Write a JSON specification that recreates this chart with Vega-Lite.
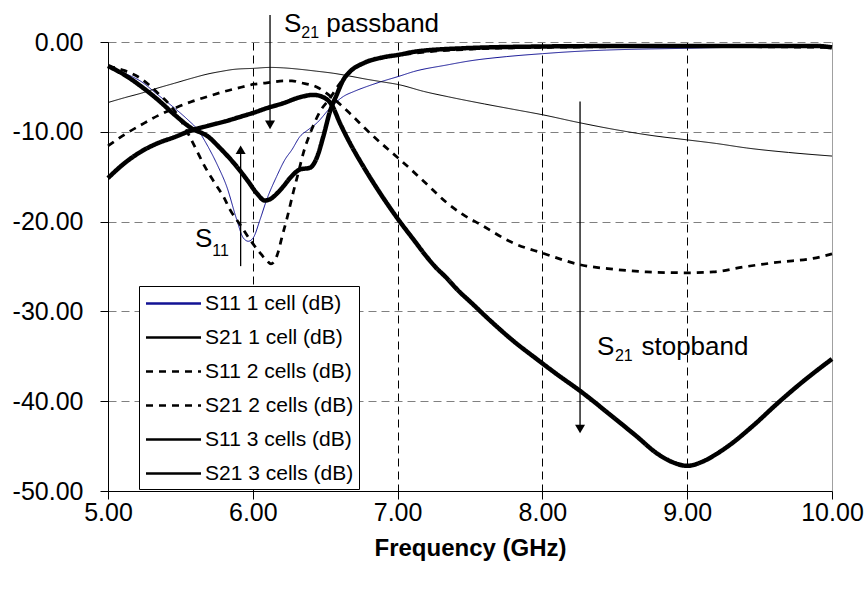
{
  "$schema": "https://vega.github.io/schema/vega-lite/v6.json",
  "width": 724,
  "height": 449,
  "autosize": {"type": "none"},
  "padding": {"left": 108, "top": 42, "right": 34, "bottom": 99},
  "background": "white",
  "config": {
    "view": {"stroke": null},
    "font": "Liberation Sans",
    "legend": {
      "orient": "none",
      "legendX": 31,
      "legendY": 244,
      "direction": "vertical",
      "symbolType": "M-2.5,0L2.5,0",
      "symbolSize": 484,
      "symbolOffset": 17,
      "symbolStrokeWidth": 2.5,
      "labelOffset": 19,
      "labelFontSize": 21,
      "labelFont": "Liberation Sans",
      "labelColor": "black",
      "labelLimit": 400,
      "padding": 5,
      "rowPadding": 11,
      "strokeColor": "black",
      "fillColor": "white",
      "cornerRadius": 0
    }
  },
  "datasets": {
    "curves": [
      {"s": "S11 1 cell (dB)", "f": 5.0, "db": -2.67}, {"s": "S11 1 cell (dB)", "f": 5.115, "db": -3.48}, {"s": "S11 1 cell (dB)", "f": 5.23, "db": -4.41}, {"s": "S11 1 cell (dB)", "f": 5.345, "db": -5.89}, {"s": "S11 1 cell (dB)", "f": 5.46, "db": -7.37}, {"s": "S11 1 cell (dB)", "f": 5.552, "db": -8.67}, {"s": "S11 1 cell (dB)", "f": 5.62, "db": -9.78}, {"s": "S11 1 cell (dB)", "f": 5.69, "db": -11.63}, {"s": "S11 1 cell (dB)", "f": 5.76, "db": -13.85}, {"s": "S11 1 cell (dB)", "f": 5.82, "db": -16.1}, {"s": "S11 1 cell (dB)", "f": 5.889, "db": -19.78}, {"s": "S11 1 cell (dB)", "f": 5.934, "db": -21.81}, {"s": "S11 1 cell (dB)", "f": 5.969, "db": -22.19}, {"s": "S11 1 cell (dB)", "f": 6.003, "db": -21.81}, {"s": "S11 1 cell (dB)", "f": 6.05, "db": -19.78}, {"s": "S11 1 cell (dB)", "f": 6.096, "db": -17.56}, {"s": "S11 1 cell (dB)", "f": 6.165, "db": -14.96}, {"s": "S11 1 cell (dB)", "f": 6.222, "db": -13.1}, {"s": "S11 1 cell (dB)", "f": 6.27, "db": -12.0}, {"s": "S11 1 cell (dB)", "f": 6.326, "db": -10.52}, {"s": "S11 1 cell (dB)", "f": 6.38, "db": -9.8}, {"s": "S11 1 cell (dB)", "f": 6.441, "db": -9.04}, {"s": "S11 1 cell (dB)", "f": 6.533, "db": -7.37}, {"s": "S11 1 cell (dB)", "f": 6.625, "db": -6.07}, {"s": "S11 1 cell (dB)", "f": 6.7, "db": -5.5}, {"s": "S11 1 cell (dB)", "f": 6.787, "db": -4.96}, {"s": "S11 1 cell (dB)", "f": 6.88, "db": -4.45}, {"s": "S11 1 cell (dB)", "f": 7.017, "db": -3.78}, {"s": "S11 1 cell (dB)", "f": 7.11, "db": -3.3}, {"s": "S11 1 cell (dB)", "f": 7.34, "db": -2.56}, {"s": "S11 1 cell (dB)", "f": 7.5, "db": -2.1}, {"s": "S11 1 cell (dB)", "f": 7.75, "db": -1.63}, {"s": "S11 1 cell (dB)", "f": 8.0, "db": -1.3}, {"s": "S11 1 cell (dB)", "f": 8.21, "db": -1.07}, {"s": "S11 1 cell (dB)", "f": 8.44, "db": -0.9}, {"s": "S11 1 cell (dB)", "f": 8.72, "db": -0.78}, {"s": "S11 1 cell (dB)", "f": 9.0, "db": -0.7}, {"s": "S11 1 cell (dB)", "f": 9.18, "db": -0.63}, {"s": "S11 1 cell (dB)", "f": 9.5, "db": -0.58}, {"s": "S11 1 cell (dB)", "f": 10.0, "db": -0.55},
      {"s": "S21 1 cell (dB)", "f": 5.0, "db": -6.74}, {"s": "S21 1 cell (dB)", "f": 5.115, "db": -6.2}, {"s": "S21 1 cell (dB)", "f": 5.23, "db": -5.7}, {"s": "S21 1 cell (dB)", "f": 5.345, "db": -5.12}, {"s": "S21 1 cell (dB)", "f": 5.46, "db": -4.59}, {"s": "S21 1 cell (dB)", "f": 5.575, "db": -4.05}, {"s": "S21 1 cell (dB)", "f": 5.69, "db": -3.56}, {"s": "S21 1 cell (dB)", "f": 5.78, "db": -3.28}, {"s": "S21 1 cell (dB)", "f": 5.875, "db": -3.04}, {"s": "S21 1 cell (dB)", "f": 6.01, "db": -2.93}, {"s": "S21 1 cell (dB)", "f": 6.119, "db": -2.83}, {"s": "S21 1 cell (dB)", "f": 6.21, "db": -2.88}, {"s": "S21 1 cell (dB)", "f": 6.326, "db": -3.04}, {"s": "S21 1 cell (dB)", "f": 6.44, "db": -3.25}, {"s": "S21 1 cell (dB)", "f": 6.556, "db": -3.48}, {"s": "S21 1 cell (dB)", "f": 6.671, "db": -3.8}, {"s": "S21 1 cell (dB)", "f": 6.787, "db": -4.15}, {"s": "S21 1 cell (dB)", "f": 6.88, "db": -4.4}, {"s": "S21 1 cell (dB)", "f": 7.017, "db": -4.78}, {"s": "S21 1 cell (dB)", "f": 7.18, "db": -5.5}, {"s": "S21 1 cell (dB)", "f": 7.35, "db": -6.1}, {"s": "S21 1 cell (dB)", "f": 7.6, "db": -6.9}, {"s": "S21 1 cell (dB)", "f": 7.8, "db": -7.5}, {"s": "S21 1 cell (dB)", "f": 8.0, "db": -8.1}, {"s": "S21 1 cell (dB)", "f": 8.26, "db": -9.0}, {"s": "S21 1 cell (dB)", "f": 8.536, "db": -9.85}, {"s": "S21 1 cell (dB)", "f": 8.75, "db": -10.4}, {"s": "S21 1 cell (dB)", "f": 9.0, "db": -10.9}, {"s": "S21 1 cell (dB)", "f": 9.2, "db": -11.3}, {"s": "S21 1 cell (dB)", "f": 9.41, "db": -11.8}, {"s": "S21 1 cell (dB)", "f": 9.7, "db": -12.3}, {"s": "S21 1 cell (dB)", "f": 10.0, "db": -12.7},
      {"s": "S11 2 cells (dB)", "f": 5.0, "db": -2.67}, {"s": "S11 2 cells (dB)", "f": 5.115, "db": -3.19}, {"s": "S11 2 cells (dB)", "f": 5.23, "db": -4.1}, {"s": "S11 2 cells (dB)", "f": 5.345, "db": -5.7}, {"s": "S11 2 cells (dB)", "f": 5.437, "db": -7.19}, {"s": "S11 2 cells (dB)", "f": 5.495, "db": -8.48}, {"s": "S11 2 cells (dB)", "f": 5.552, "db": -10.15}, {"s": "S11 2 cells (dB)", "f": 5.61, "db": -12.0}, {"s": "S11 2 cells (dB)", "f": 5.668, "db": -13.85}, {"s": "S11 2 cells (dB)", "f": 5.737, "db": -15.7}, {"s": "S11 2 cells (dB)", "f": 5.8, "db": -17.3}, {"s": "S11 2 cells (dB)", "f": 5.8425, "db": -18.67}, {"s": "S11 2 cells (dB)", "f": 5.912, "db": -20.33}, {"s": "S11 2 cells (dB)", "f": 5.98, "db": -22.0}, {"s": "S11 2 cells (dB)", "f": 6.05, "db": -23.48}, {"s": "S11 2 cells (dB)", "f": 6.1, "db": -24.4}, {"s": "S11 2 cells (dB)", "f": 6.125, "db": -24.7}, {"s": "S11 2 cells (dB)", "f": 6.15, "db": -24.4}, {"s": "S11 2 cells (dB)", "f": 6.175, "db": -23.4}, {"s": "S11 2 cells (dB)", "f": 6.2, "db": -21.81}, {"s": "S11 2 cells (dB)", "f": 6.234, "db": -19.78}, {"s": "S11 2 cells (dB)", "f": 6.28, "db": -16.7}, {"s": "S11 2 cells (dB)", "f": 6.314, "db": -14.59}, {"s": "S11 2 cells (dB)", "f": 6.349, "db": -12.37}, {"s": "S11 2 cells (dB)", "f": 6.406, "db": -9.78}, {"s": "S11 2 cells (dB)", "f": 6.464, "db": -7.74}, {"s": "S11 2 cells (dB)", "f": 6.533, "db": -6.26}, {"s": "S11 2 cells (dB)", "f": 6.602, "db": -4.59}, {"s": "S11 2 cells (dB)", "f": 6.671, "db": -3.3}, {"s": "S11 2 cells (dB)", "f": 6.763, "db": -2.4}, {"s": "S11 2 cells (dB)", "f": 6.9, "db": -1.75}, {"s": "S11 2 cells (dB)", "f": 7.017, "db": -1.45}, {"s": "S11 2 cells (dB)", "f": 7.2, "db": -1.1}, {"s": "S11 2 cells (dB)", "f": 7.5, "db": -0.8}, {"s": "S11 2 cells (dB)", "f": 8.0, "db": -0.6}, {"s": "S11 2 cells (dB)", "f": 9.0, "db": -0.5}, {"s": "S11 2 cells (dB)", "f": 10.0, "db": -0.6},
      {"s": "S21 2 cells (dB)", "f": 5.0, "db": -11.56}, {"s": "S21 2 cells (dB)", "f": 5.115, "db": -10.3}, {"s": "S21 2 cells (dB)", "f": 5.23, "db": -9.22}, {"s": "S21 2 cells (dB)", "f": 5.345, "db": -8.2}, {"s": "S21 2 cells (dB)", "f": 5.46, "db": -7.37}, {"s": "S21 2 cells (dB)", "f": 5.575, "db": -6.65}, {"s": "S21 2 cells (dB)", "f": 5.69, "db": -6.07}, {"s": "S21 2 cells (dB)", "f": 5.806, "db": -5.5}, {"s": "S21 2 cells (dB)", "f": 5.92, "db": -5.04}, {"s": "S21 2 cells (dB)", "f": 6.01, "db": -4.7}, {"s": "S21 2 cells (dB)", "f": 6.096, "db": -4.55}, {"s": "S21 2 cells (dB)", "f": 6.211, "db": -4.33}, {"s": "S21 2 cells (dB)", "f": 6.27, "db": -4.32}, {"s": "S21 2 cells (dB)", "f": 6.326, "db": -4.52}, {"s": "S21 2 cells (dB)", "f": 6.441, "db": -5.0}, {"s": "S21 2 cells (dB)", "f": 6.556, "db": -6.3}, {"s": "S21 2 cells (dB)", "f": 6.671, "db": -7.96}, {"s": "S21 2 cells (dB)", "f": 6.787, "db": -9.81}, {"s": "S21 2 cells (dB)", "f": 6.901, "db": -11.48}, {"s": "S21 2 cells (dB)", "f": 7.017, "db": -13.1}, {"s": "S21 2 cells (dB)", "f": 7.18, "db": -15.5}, {"s": "S21 2 cells (dB)", "f": 7.34, "db": -17.9}, {"s": "S21 2 cells (dB)", "f": 7.45, "db": -19.2}, {"s": "S21 2 cells (dB)", "f": 7.57, "db": -20.3}, {"s": "S21 2 cells (dB)", "f": 7.8, "db": -22.4}, {"s": "S21 2 cells (dB)", "f": 8.0, "db": -23.5}, {"s": "S21 2 cells (dB)", "f": 8.26, "db": -24.8}, {"s": "S21 2 cells (dB)", "f": 8.49, "db": -25.3}, {"s": "S21 2 cells (dB)", "f": 8.72, "db": -25.6}, {"s": "S21 2 cells (dB)", "f": 9.0, "db": -25.7}, {"s": "S21 2 cells (dB)", "f": 9.18, "db": -25.6}, {"s": "S21 2 cells (dB)", "f": 9.41, "db": -25.0}, {"s": "S21 2 cells (dB)", "f": 9.64, "db": -24.5}, {"s": "S21 2 cells (dB)", "f": 9.87, "db": -24.1}, {"s": "S21 2 cells (dB)", "f": 10.0, "db": -23.6},
      {"s": "S11 3 cells (dB)", "f": 5.0, "db": -2.67}, {"s": "S11 3 cells (dB)", "f": 5.115, "db": -3.67}, {"s": "S11 3 cells (dB)", "f": 5.23, "db": -4.96}, {"s": "S11 3 cells (dB)", "f": 5.345, "db": -6.44}, {"s": "S11 3 cells (dB)", "f": 5.46, "db": -8.1}, {"s": "S11 3 cells (dB)", "f": 5.575, "db": -9.59}, {"s": "S11 3 cells (dB)", "f": 5.69, "db": -10.52}, {"s": "S11 3 cells (dB)", "f": 5.773, "db": -11.8}, {"s": "S11 3 cells (dB)", "f": 5.875, "db": -13.6}, {"s": "S11 3 cells (dB)", "f": 5.967, "db": -15.5}, {"s": "S11 3 cells (dB)", "f": 6.03, "db": -16.9}, {"s": "S11 3 cells (dB)", "f": 6.084, "db": -17.65}, {"s": "S11 3 cells (dB)", "f": 6.13, "db": -17.4}, {"s": "S11 3 cells (dB)", "f": 6.165, "db": -16.9}, {"s": "S11 3 cells (dB)", "f": 6.21, "db": -16.1}, {"s": "S11 3 cells (dB)", "f": 6.257, "db": -15.15}, {"s": "S11 3 cells (dB)", "f": 6.326, "db": -14.2}, {"s": "S11 3 cells (dB)", "f": 6.395, "db": -14.0}, {"s": "S11 3 cells (dB)", "f": 6.441, "db": -12.93}, {"s": "S11 3 cells (dB)", "f": 6.487, "db": -10.52}, {"s": "S11 3 cells (dB)", "f": 6.533, "db": -7.74}, {"s": "S11 3 cells (dB)", "f": 6.579, "db": -5.89}, {"s": "S11 3 cells (dB)", "f": 6.625, "db": -4.22}, {"s": "S11 3 cells (dB)", "f": 6.671, "db": -3.3}, {"s": "S11 3 cells (dB)", "f": 6.763, "db": -2.37}, {"s": "S11 3 cells (dB)", "f": 6.901, "db": -1.7}, {"s": "S11 3 cells (dB)", "f": 7.017, "db": -1.4}, {"s": "S11 3 cells (dB)", "f": 7.11, "db": -1.1}, {"s": "S11 3 cells (dB)", "f": 7.45, "db": -0.7}, {"s": "S11 3 cells (dB)", "f": 8.0, "db": -0.5}, {"s": "S11 3 cells (dB)", "f": 8.5, "db": -0.45}, {"s": "S11 3 cells (dB)", "f": 9.0, "db": -0.45}, {"s": "S11 3 cells (dB)", "f": 9.5, "db": -0.45}, {"s": "S11 3 cells (dB)", "f": 9.9, "db": -0.45}, {"s": "S11 3 cells (dB)", "f": 10.0, "db": -0.6},
      {"s": "S21 3 cells (dB)", "f": 5.0, "db": -15.15}, {"s": "S21 3 cells (dB)", "f": 5.115, "db": -13.48}, {"s": "S21 3 cells (dB)", "f": 5.23, "db": -12.19}, {"s": "S21 3 cells (dB)", "f": 5.345, "db": -11.26}, {"s": "S21 3 cells (dB)", "f": 5.46, "db": -10.59}, {"s": "S21 3 cells (dB)", "f": 5.575, "db": -9.85}, {"s": "S21 3 cells (dB)", "f": 5.69, "db": -9.33}, {"s": "S21 3 cells (dB)", "f": 5.806, "db": -8.85}, {"s": "S21 3 cells (dB)", "f": 5.92, "db": -8.3}, {"s": "S21 3 cells (dB)", "f": 6.01, "db": -7.85}, {"s": "S21 3 cells (dB)", "f": 6.096, "db": -7.37}, {"s": "S21 3 cells (dB)", "f": 6.211, "db": -6.81}, {"s": "S21 3 cells (dB)", "f": 6.326, "db": -6.15}, {"s": "S21 3 cells (dB)", "f": 6.418, "db": -5.89}, {"s": "S21 3 cells (dB)", "f": 6.487, "db": -6.15}, {"s": "S21 3 cells (dB)", "f": 6.545, "db": -7.0}, {"s": "S21 3 cells (dB)", "f": 6.602, "db": -9.04}, {"s": "S21 3 cells (dB)", "f": 6.671, "db": -11.26}, {"s": "S21 3 cells (dB)", "f": 6.763, "db": -13.85}, {"s": "S21 3 cells (dB)", "f": 6.856, "db": -16.26}, {"s": "S21 3 cells (dB)", "f": 7.02, "db": -20.1}, {"s": "S21 3 cells (dB)", "f": 7.11, "db": -22.0}, {"s": "S21 3 cells (dB)", "f": 7.2, "db": -23.9}, {"s": "S21 3 cells (dB)", "f": 7.258, "db": -25.0}, {"s": "S21 3 cells (dB)", "f": 7.34, "db": -26.3}, {"s": "S21 3 cells (dB)", "f": 7.42, "db": -27.7}, {"s": "S21 3 cells (dB)", "f": 7.5, "db": -28.9}, {"s": "S21 3 cells (dB)", "f": 7.638, "db": -31.0}, {"s": "S21 3 cells (dB)", "f": 7.8, "db": -33.3}, {"s": "S21 3 cells (dB)", "f": 7.96, "db": -35.3}, {"s": "S21 3 cells (dB)", "f": 8.1, "db": -37.0}, {"s": "S21 3 cells (dB)", "f": 8.26, "db": -38.85}, {"s": "S21 3 cells (dB)", "f": 8.49, "db": -41.8}, {"s": "S21 3 cells (dB)", "f": 8.65, "db": -43.9}, {"s": "S21 3 cells (dB)", "f": 8.79, "db": -45.8}, {"s": "S21 3 cells (dB)", "f": 8.9, "db": -46.8}, {"s": "S21 3 cells (dB)", "f": 9.0, "db": -47.2}, {"s": "S21 3 cells (dB)", "f": 9.11, "db": -46.7}, {"s": "S21 3 cells (dB)", "f": 9.2, "db": -45.9}, {"s": "S21 3 cells (dB)", "f": 9.3, "db": -44.8}, {"s": "S21 3 cells (dB)", "f": 9.45, "db": -42.8}, {"s": "S21 3 cells (dB)", "f": 9.64, "db": -40.0}, {"s": "S21 3 cells (dB)", "f": 9.8, "db": -37.8}, {"s": "S21 3 cells (dB)", "f": 10.0, "db": -35.3}
    ]
  },
  "encoding": {
    "x": {
      "field": "f", "type": "quantitative",
      "scale": {"domain": [5, 10], "nice": false, "zero": false},
      "axis": {
        "values": [5, 6, 7, 8, 9, 10],
        "format": ".2f",
        "title": "Frequency (GHz)",
        "titleFontSize": 24,
        "titleFontWeight": "bold",
        "titleColor": "black",
        "titleFont": "Liberation Sans",
        "titlePadding": 11,
        "labelFontSize": 25,
        "labelFont": "Liberation Sans",
        "labelColor": "black",
        "labelPadding": 1,
        "labelFlush": false,
        "labelOverlap": false,
        "labelBound": false,
        "tickSize": 8,
        "tickColor": "black",
        "domainColor": "black",
        "grid": true,
        "gridColor": {"condition": {"test": "datum.value == 10", "value": "#808080"}, "value": "black"},
        "gridDash": {"condition": {"test": "datum.value == 10", "value": [1, 0]}, "value": [8, 5]},
        "gridWidth": 1
      }
    },
    "y": {
      "field": "db", "type": "quantitative",
      "scale": {"domain": [-50, 0], "nice": false, "zero": false},
      "axis": {
        "values": [-50, -40, -30, -20, -10, 0],
        "labelExpr": "replace(format(datum.value, '.2f'), '\u2212', '-')",
        "title": null,
        "labelFontSize": 25,
        "labelFont": "Liberation Sans",
        "labelColor": "black",
        "labelPadding": 17,
        "labelFlush": false,
        "labelOverlap": false,
        "tickSize": 8,
        "tickColor": "black",
        "domainColor": "black",
        "grid": true,
        "gridColor": "#808080",
        "gridDash": [8, 5],
        "gridWidth": 1
      }
    }
  },
  "layer": [
    {
      "data": {"name": "curves"},
      "transform": [{"filter": "indexof(datum.s, '1 cell') >= 0"}],
      "mark": {"type": "line", "interpolate": "monotone", "strokeWidth": 1},
      "encoding": {
        "color": {
          "field": "s", "type": "ordinal",
          "scale": {
            "domain": ["S11 1 cell (dB)", "S21 1 cell (dB)", "S11 2 cells (dB)", "S21 2 cells (dB)", "S11 3 cells (dB)", "S21 3 cells (dB)"],
            "range": ["#121294", "black", "black", "black", "black", "black"]
          },
          "legend": {"title": null}
        },
        "strokeDash": {
          "field": "s", "type": "ordinal",
          "scale": {
            "domain": ["S11 1 cell (dB)", "S21 1 cell (dB)", "S11 2 cells (dB)", "S21 2 cells (dB)", "S11 3 cells (dB)", "S21 3 cells (dB)"],
            "range": [[1, 0], [1, 0], [7, 6], [7, 6], [1, 0], [1, 0]]
          },
          "legend": {"title": null}
        }
      }
    },
    {
      "data": {"name": "curves"},
      "transform": [{"filter": "indexof(datum.s, '2 cells') >= 0"}],
      "mark": {"type": "line", "interpolate": "monotone", "strokeWidth": 2.75},
      "encoding": {
        "color": {"field": "s", "type": "ordinal", "legend": {"title": null}},
        "strokeDash": {"field": "s", "type": "ordinal", "legend": {"title": null}}
      }
    },
    {
      "data": {"name": "curves"},
      "transform": [{"filter": "indexof(datum.s, '3 cells') >= 0"}],
      "mark": {"type": "line", "interpolate": "monotone", "strokeWidth": 4.5},
      "encoding": {
        "color": {"field": "s", "type": "ordinal", "legend": {"title": null}},
        "strokeDash": {"field": "s", "type": "ordinal", "legend": {"title": null}}
      }
    },
    {
      "data": {
        "values": [
          {"f": 6.119, "db": 3.0, "db2": -9.3},
          {"f": 5.916, "db": -24.96, "db2": -12.0},
          {"f": 8.26, "db": -6.63, "db2": -43.0}
        ]
      },
      "mark": {"type": "rule", "color": "black", "strokeWidth": 1.3},
      "encoding": {
        "y2": {"field": "db2"}
      }
    },
    {
      "data": {
        "values": [
          {"f": 6.119, "db": -9.22, "dir": "down"},
          {"f": 5.916, "db": -12.0, "dir": "up"},
          {"f": 8.26, "db": -43.1, "dir": "down"}
        ]
      },
      "mark": {"type": "point", "filled": true, "color": "black", "opacity": 1, "size": 100},
      "encoding": {
        "shape": {"field": "dir", "type": "nominal", "scale": {"domain": ["down", "up"], "range": ["triangle-down", "triangle-up"]}, "legend": null}
      }
    },
    {
      "data": {
        "values": [
          {"f": 6.2155, "db": 1.111, "t": "S"},
          {"f": 6.5077, "db": 1.111, "t": "passband"},
          {"f": 5.6008, "db": -22.86, "t": "S"},
          {"f": 8.377, "db": -34.89, "t": "S"},
          {"f": 8.684, "db": -34.89, "t": "stopband"}
        ]
      },
      "mark": {"type": "text", "align": "left", "baseline": "alphabetic", "fontSize": 26, "font": "Liberation Sans", "color": "black"},
      "encoding": {
        "text": {"field": "t"}
      }
    },
    {
      "data": {
        "values": [
          {"f": 6.335, "db": 0.444, "t": "21"},
          {"f": 5.7196, "db": -23.78, "t": "11"},
          {"f": 8.501, "db": -35.52, "t": "21"}
        ]
      },
      "mark": {"type": "text", "align": "left", "baseline": "alphabetic", "fontSize": 16, "font": "Liberation Sans", "color": "black"},
      "encoding": {
        "text": {"field": "t"}
      }
    }
  ]
}
